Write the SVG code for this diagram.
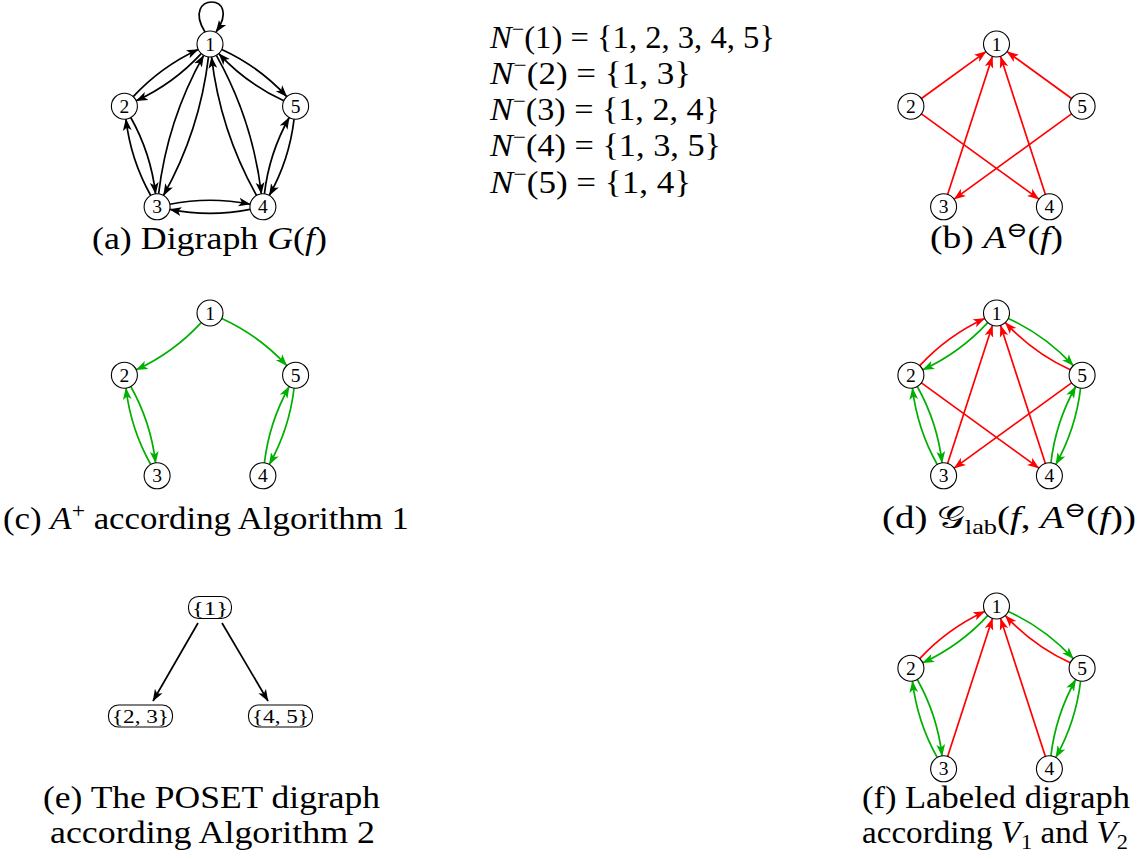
<svg xmlns="http://www.w3.org/2000/svg" width="1139" height="859" viewBox="0 0 1139 859">
<style>
.nd{fill:#fff;stroke:#000;stroke-width:1.1}
.nl{font-family:"Liberation Serif","DejaVu Serif",serif;font-size:19.5px;text-anchor:middle;fill:#000}
.e{fill:none;stroke-width:1.7}
.k{stroke:#000;marker-end:url(#ak)}
.r{stroke:#ff0000;marker-end:url(#ar)}
.g{stroke:#00b000;marker-end:url(#ag)}
.cap{font-family:"Liberation Serif","DejaVu Serif","DejaVu Sans",serif;font-size:31px;text-anchor:middle;fill:#000}
.fm{font-family:"Liberation Serif","DejaVu Serif",serif;font-size:31px;fill:#000}
.it{font-style:italic}
</style>
<defs>
<marker id="ak" markerWidth="13" markerHeight="10" refX="11.5" refY="5" orient="auto" markerUnits="userSpaceOnUse"><path d="M12,5 L0,0.6 L3,5 L0,9.4 Z" fill="#000"/></marker>
<marker id="ar" markerWidth="13" markerHeight="10" refX="11.5" refY="5" orient="auto" markerUnits="userSpaceOnUse"><path d="M12,5 L0,0.6 L3,5 L0,9.4 Z" fill="#ff0000"/></marker>
<marker id="ag" markerWidth="13" markerHeight="10" refX="11.5" refY="5" orient="auto" markerUnits="userSpaceOnUse"><path d="M12,5 L0,0.6 L3,5 L0,9.4 Z" fill="#00b000"/></marker>
</defs>
<rect width="1139" height="859" fill="#fff"/>

<!-- Panel (a) -->
<g id="panel-a" transform="translate(210,44)">
<g id="a-edges">
<path class="e k" d="M-5,-12 C-30,-52 34,-52 6,-12"/>
<path class="e k" d="M-76.79,52.65 Q-49.02,22.54 -11.81,5.43"/>
<path class="e k" d="M-8.82,9.56 Q-36.58,39.66 -73.79,56.77"/>
<path class="e k" d="M11.81,5.43 Q49.02,22.54 76.79,52.65"/>
<path class="e k" d="M73.79,56.77 Q36.58,39.66 8.82,9.56"/>
<path class="e k" d="M-79.24,73.54 Q-59.19,109.23 -54.42,149.89"/>
<path class="e k" d="M-59.26,151.47 Q-79.31,115.77 -84.08,75.11"/>
<path class="e k" d="M54.42,149.89 Q59.19,109.23 79.24,73.54"/>
<path class="e k" d="M84.08,75.11 Q79.31,115.77 59.26,151.47"/>
<path class="e k" d="M-40.15,160.25 Q0,152.22 40.15,160.25"/>
<path class="e k" d="M40.15,165.35 Q0,173.38 -40.15,165.35"/>
<path class="e k" d="M-1.52,12.91 Q-10.17,86.69 -46.54,151.46"/>
<path class="e k" d="M-51.39,149.89 Q-42.73,76.11 -6.36,11.34"/>
<path class="e k" d="M6.36,11.34 Q42.73,76.11 51.39,149.89"/>
<path class="e k" d="M46.54,151.46 Q10.17,86.69 1.52,12.91"/>
</g>
<g id="a-n1"><circle class="nd" cx="0" cy="0" r="13"/><text class="nl" x="0" y="6.5">1</text></g>
<g id="a-n2"><circle class="nd" cx="-85.6" cy="62.2" r="13"/><text class="nl" x="-85.6" y="68.7">2</text></g>
<g id="a-n3"><circle class="nd" cx="-52.9" cy="162.8" r="13"/><text class="nl" x="-52.9" y="169.3">3</text></g>
<g id="a-n4"><circle class="nd" cx="52.9" cy="162.8" r="13"/><text class="nl" x="52.9" y="169.3">4</text></g>
<g id="a-n5"><circle class="nd" cx="85.6" cy="62.2" r="13"/><text class="nl" x="85.6" y="68.7">5</text></g>
</g>
<text class="cap" x="209.5" y="249" textLength="235" lengthAdjust="spacingAndGlyphs">(a) Digraph <tspan class="it">G</tspan>(<tspan class="it">f</tspan>)</text>

<!-- Panel (b) -->
<g id="panel-b" transform="translate(996.5,44)">
<g id="b-edges">
<path class="e r" d="M-75.08,54.56 L-10.52,7.64"/>
<path class="e r" d="M75.08,54.56 L10.52,7.64"/>
<path class="e r" d="M-48.88,150.44 L-4.02,12.36"/>
<path class="e r" d="M48.88,150.44 L4.02,12.36"/>
<path class="e r" d="M-75.08,69.84 L42.38,155.16"/>
<path class="e r" d="M75.08,69.84 L-42.38,155.16"/>
</g>
<g id="b-n1"><circle class="nd" cx="0" cy="0" r="13"/><text class="nl" x="0" y="6.5">1</text></g>
<g id="b-n2"><circle class="nd" cx="-85.6" cy="62.2" r="13"/><text class="nl" x="-85.6" y="68.7">2</text></g>
<g id="b-n3"><circle class="nd" cx="-52.9" cy="162.8" r="13"/><text class="nl" x="-52.9" y="169.3">3</text></g>
<g id="b-n4"><circle class="nd" cx="52.9" cy="162.8" r="13"/><text class="nl" x="52.9" y="169.3">4</text></g>
<g id="b-n5"><circle class="nd" cx="85.6" cy="62.2" r="13"/><text class="nl" x="85.6" y="68.7">5</text></g>
</g>
<text class="cap" x="996.5" y="248" textLength="133" lengthAdjust="spacingAndGlyphs">(b) <tspan class="it">A</tspan><tspan dy="-11" font-size="21">⊖</tspan><tspan dy="11">(</tspan><tspan class="it">f</tspan>)</text>

<!-- Panel (c) -->
<g id="panel-c" transform="translate(210,313)">
<g id="c-edges">
<path class="e g" d="M-8.82,9.56 Q-36.58,39.66 -73.79,56.77"/>
<path class="e g" d="M11.81,5.43 Q49.02,22.54 76.79,52.65"/>
<path class="e g" d="M-79.24,73.54 Q-59.19,109.23 -54.42,149.89"/>
<path class="e g" d="M-59.26,151.47 Q-79.31,115.77 -84.08,75.11"/>
<path class="e g" d="M54.42,149.89 Q59.19,109.23 79.24,73.54"/>
<path class="e g" d="M84.08,75.11 Q79.31,115.77 59.26,151.47"/>
</g>
<g id="c-n1"><circle class="nd" cx="0" cy="0" r="13"/><text class="nl" x="0" y="6.5">1</text></g>
<g id="c-n2"><circle class="nd" cx="-85.6" cy="62.2" r="13"/><text class="nl" x="-85.6" y="68.7">2</text></g>
<g id="c-n3"><circle class="nd" cx="-52.9" cy="162.8" r="13"/><text class="nl" x="-52.9" y="169.3">3</text></g>
<g id="c-n4"><circle class="nd" cx="52.9" cy="162.8" r="13"/><text class="nl" x="52.9" y="169.3">4</text></g>
<g id="c-n5"><circle class="nd" cx="85.6" cy="62.2" r="13"/><text class="nl" x="85.6" y="68.7">5</text></g>
</g>
<text class="cap" x="206" y="529" textLength="406" lengthAdjust="spacingAndGlyphs">(c) <tspan class="it">A</tspan><tspan dy="-11" font-size="21">+</tspan><tspan dy="11"> according Algorithm 1</tspan></text>

<!-- Panel (d) -->
<g id="panel-d" transform="translate(996.5,313)">
<g id="d-edges">
<path class="e r" d="M-76.79,52.65 Q-49.02,22.54 -11.81,5.43"/>
<path class="e g" d="M-8.82,9.56 Q-36.58,39.66 -73.79,56.77"/>
<path class="e g" d="M11.81,5.43 Q49.02,22.54 76.79,52.65"/>
<path class="e r" d="M73.79,56.77 Q36.58,39.66 8.82,9.56"/>
<path class="e g" d="M-79.24,73.54 Q-59.19,109.23 -54.42,149.89"/>
<path class="e g" d="M-59.26,151.47 Q-79.31,115.77 -84.08,75.11"/>
<path class="e g" d="M54.42,149.89 Q59.19,109.23 79.24,73.54"/>
<path class="e g" d="M84.08,75.11 Q79.31,115.77 59.26,151.47"/>
<path class="e r" d="M-48.88,150.44 L-4.02,12.36"/>
<path class="e r" d="M48.88,150.44 L4.02,12.36"/>
<path class="e r" d="M-75.08,69.84 L42.38,155.16"/>
<path class="e r" d="M75.08,69.84 L-42.38,155.16"/>
</g>
<g id="d-n1"><circle class="nd" cx="0" cy="0" r="13"/><text class="nl" x="0" y="6.5">1</text></g>
<g id="d-n2"><circle class="nd" cx="-85.6" cy="62.2" r="13"/><text class="nl" x="-85.6" y="68.7">2</text></g>
<g id="d-n3"><circle class="nd" cx="-52.9" cy="162.8" r="13"/><text class="nl" x="-52.9" y="169.3">3</text></g>
<g id="d-n4"><circle class="nd" cx="52.9" cy="162.8" r="13"/><text class="nl" x="52.9" y="169.3">4</text></g>
<g id="d-n5"><circle class="nd" cx="85.6" cy="62.2" r="13"/><text class="nl" x="85.6" y="68.7">5</text></g>
</g>
<text class="cap" x="1009" y="528" textLength="254" lengthAdjust="spacingAndGlyphs">(d) 𝒢<tspan dy="6" font-size="21">lab</tspan><tspan dy="-6">(</tspan><tspan class="it">f</tspan>, <tspan class="it">A</tspan><tspan dy="-11" font-size="21">⊖</tspan><tspan dy="11">(</tspan><tspan class="it">f</tspan>))</text>

<!-- Panel (e) -->
<g id="panel-e">
<g id="e-edges">
<path class="e k" d="M198,623 L153,701"/>
<path class="e k" d="M222,623 L268,701"/>
</g>
<g id="e-n1"><rect class="nd" x="188.5" y="596.5" width="43" height="22" rx="10"/><text class="nl" x="210" y="614.5" font-size="21" textLength="36" lengthAdjust="spacingAndGlyphs">{1}</text></g>
<g id="e-n23"><rect class="nd" x="108.5" y="705" width="64" height="22" rx="10"/><text class="nl" x="140.5" y="723" font-size="21" textLength="57" lengthAdjust="spacingAndGlyphs">{2, 3}</text></g>
<g id="e-n45"><rect class="nd" x="248.5" y="705" width="64" height="22" rx="10"/><text class="nl" x="280.5" y="723" font-size="21" textLength="57" lengthAdjust="spacingAndGlyphs">{4, 5}</text></g>
</g>
<text class="cap" x="211.5" y="808" textLength="337" lengthAdjust="spacingAndGlyphs">(e) The POSET digraph</text>
<text class="cap" x="212.5" y="843" textLength="325" lengthAdjust="spacingAndGlyphs">according Algorithm 2</text>

<!-- Panel (f) -->
<g id="panel-f" transform="translate(996.5,606)">
<g id="f-edges">
<path class="e r" d="M-76.79,52.65 Q-49.02,22.54 -11.81,5.43"/>
<path class="e g" d="M-8.82,9.56 Q-36.58,39.66 -73.79,56.77"/>
<path class="e g" d="M11.81,5.43 Q49.02,22.54 76.79,52.65"/>
<path class="e r" d="M73.79,56.77 Q36.58,39.66 8.82,9.56"/>
<path class="e g" d="M-79.24,73.54 Q-59.19,109.23 -54.42,149.89"/>
<path class="e g" d="M-59.26,151.47 Q-79.31,115.77 -84.08,75.11"/>
<path class="e g" d="M54.42,149.89 Q59.19,109.23 79.24,73.54"/>
<path class="e g" d="M84.08,75.11 Q79.31,115.77 59.26,151.47"/>
<path class="e r" d="M-48.88,150.44 L-4.02,12.36"/>
<path class="e r" d="M48.88,150.44 L4.02,12.36"/>
</g>
<g id="f-n1"><circle class="nd" cx="0" cy="0" r="13"/><text class="nl" x="0" y="6.5">1</text></g>
<g id="f-n2"><circle class="nd" cx="-85.6" cy="62.2" r="13"/><text class="nl" x="-85.6" y="68.7">2</text></g>
<g id="f-n3"><circle class="nd" cx="-52.9" cy="162.8" r="13"/><text class="nl" x="-52.9" y="169.3">3</text></g>
<g id="f-n4"><circle class="nd" cx="52.9" cy="162.8" r="13"/><text class="nl" x="52.9" y="169.3">4</text></g>
<g id="f-n5"><circle class="nd" cx="85.6" cy="62.2" r="13"/><text class="nl" x="85.6" y="68.7">5</text></g>
</g>
<text class="cap" x="996" y="808" textLength="268" lengthAdjust="spacingAndGlyphs">(f) Labeled digraph</text>
<text class="cap" x="995" y="843" textLength="266" lengthAdjust="spacingAndGlyphs">according <tspan class="it">V</tspan><tspan dy="6" font-size="21">1</tspan><tspan dy="-6"> and </tspan><tspan class="it">V</tspan><tspan dy="6" font-size="21">2</tspan></text>

<!-- Formulas -->
<g id="formulas">
<text class="fm" x="490" y="48" textLength="285" lengthAdjust="spacingAndGlyphs"><tspan class="it">N</tspan><tspan dy="-12" font-size="21">−</tspan><tspan dy="12">(1) = {1, 2, 3, 4, 5}</tspan></text>
<text class="fm" x="490" y="84" textLength="201" lengthAdjust="spacingAndGlyphs"><tspan class="it">N</tspan><tspan dy="-12" font-size="21">−</tspan><tspan dy="12">(2) = {1, 3}</tspan></text>
<text class="fm" x="490" y="120" textLength="230" lengthAdjust="spacingAndGlyphs"><tspan class="it">N</tspan><tspan dy="-12" font-size="21">−</tspan><tspan dy="12">(3) = {1, 2, 4}</tspan></text>
<text class="fm" x="490" y="156" textLength="231" lengthAdjust="spacingAndGlyphs"><tspan class="it">N</tspan><tspan dy="-12" font-size="21">−</tspan><tspan dy="12">(4) = {1, 3, 5}</tspan></text>
<text class="fm" x="490" y="193" textLength="201" lengthAdjust="spacingAndGlyphs"><tspan class="it">N</tspan><tspan dy="-12" font-size="21">−</tspan><tspan dy="12">(5) = {1, 4}</tspan></text>
</g>
</svg>
